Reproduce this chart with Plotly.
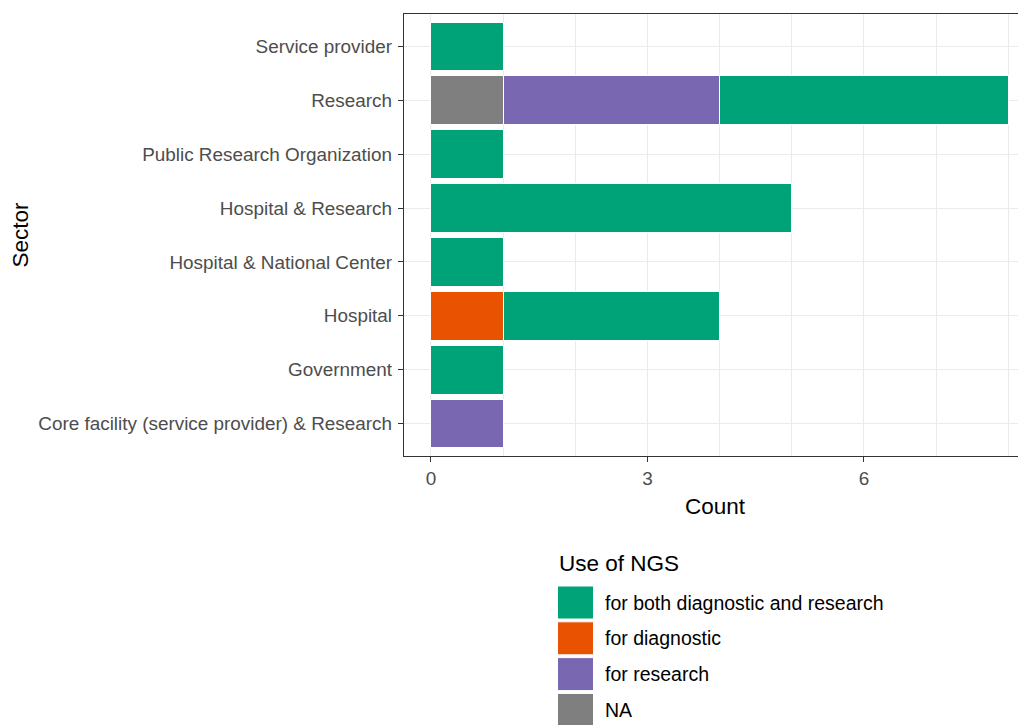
import plotly.graph_objects as go

# ---- data ----
sectors = [
    "Core facility (service provider) & Research",
    "Government",
    "Hospital",
    "Hospital & National Center",
    "Hospital & Research",
    "Public Research Organization",
    "Research",
    "Service provider",
]
both_counts = [0, 1, 3, 1, 5, 1, 4, 1]
diagnostic_counts = [0, 0, 1, 0, 0, 0, 0, 0]
research_counts = [1, 0, 0, 0, 0, 0, 3, 0]
na_counts = [0, 0, 0, 0, 0, 0, 1, 0]

legend_labels = ["for both diagnostic and research", "for diagnostic", "for research", "NA"]
legend_title = "Use of NGS"
x_ticks = [0, 3, 6]

# ---- style ----
COL = {
    "for both diagnostic and research": "#00A378",
    "for diagnostic": "#E85200",
    "for research": "#7A67B2",
    "NA": "#7F7F7F",
}
FONT = "Liberation Sans, Arial, sans-serif"

OFF = 8  # page body margin
W, H = 1026 - OFF, 725 - OFF
ML, MT = 404 - OFF, 14 - OFF
MR = 0
MB = 725 - 456
PW, PH = W - ML - MR, H - MT - MB


def px_x(px):
    return (px - OFF - ML) / PW


def px_y(py):
    return (H - MB - (py - OFF)) / PH


fig = go.Figure()
# stacking order: first trace closest to zero
for name, vals in [("NA", na_counts), ("for research", research_counts),
                   ("for diagnostic", diagnostic_counts),
                   ("for both diagnostic and research", both_counts)]:
    fig.add_trace(go.Bar(
        y=sectors, x=[v if v else None for v in vals], orientation="h",
        name=name, width=0.9,
        marker=dict(color=COL[name], line=dict(color="white", width=1)),
        showlegend=False,
    ))

fig.update_layout(
    width=W, height=H, barmode="stack",
    margin=dict(l=ML, r=MR, t=MT, b=MB, autoexpand=False),
    paper_bgcolor="white", plot_bgcolor="white",
    font=dict(family=FONT, color="#4D4D4D"),
    showlegend=False,
)
fig.update_xaxes(
    range=[-0.374, 8.245], tickmode="array", tickvals=x_ticks,
    ticktext=[str(t) for t in x_ticks],
    showgrid=True, gridcolor="#EBEBEB", gridwidth=1,
    minor=dict(dtick=1, tick0=0, showgrid=True, gridcolor="#EBEBEB", gridwidth=1, ticklen=0),
    zeroline=False,
    showline=True, linecolor="#333333", linewidth=1, mirror=True,
    ticks="outside", ticklen=5, tickcolor="#333333", tickwidth=1,
    tickfont=dict(size=18.9, color="#4D4D4D", family=FONT),
    title=dict(text="Count", font=dict(size=22.5, color="black", family=FONT), standoff=10),
)
fig.update_yaxes(
    categoryorder="array", categoryarray=sectors, range=[-0.6, 7.6],
    showgrid=True, gridcolor="#EBEBEB", gridwidth=1,
    showline=True, linecolor="#333333", linewidth=1.3, mirror=False,
    ticks="outside", ticklen=5, tickcolor="#333333", tickwidth=1,
    ticklabelstandoff=2,
    tickfont=dict(size=18.9, color="#4D4D4D", family=FONT),
    title=dict(text="Sector", font=dict(size=22.5, color="black", family=FONT), standoff=10),
)

# ---- manual legend (ggplot style large keys) ----
shapes = []
annotations = [dict(
    text=legend_title, xref="paper", yref="paper", x=px_x(557), y=px_y(563),
    xanchor="left", yanchor="middle", showarrow=False,
    font=dict(size=22.5, color="black", family=FONT),
)]
for i, lab in enumerate(legend_labels):
    top = 586 + 35.8 * i
    bot = top + 33
    shapes.append(dict(
        type="rect", xref="paper", yref="paper",
        x0=px_x(557.5), x1=px_x(593.5), y0=px_y(bot), y1=px_y(top),
        fillcolor=COL[lab], line=dict(color="white", width=1), layer="above",
    ))
    annotations.append(dict(
        text=lab, xref="paper", yref="paper", x=px_x(603), y=px_y((top + bot) / 2),
        xanchor="left", yanchor="middle", showarrow=False,
        font=dict(size=19.5, color="black", family=FONT),
    ))
fig.update_layout(shapes=shapes, annotations=annotations)

fig.write_html("out.html")
